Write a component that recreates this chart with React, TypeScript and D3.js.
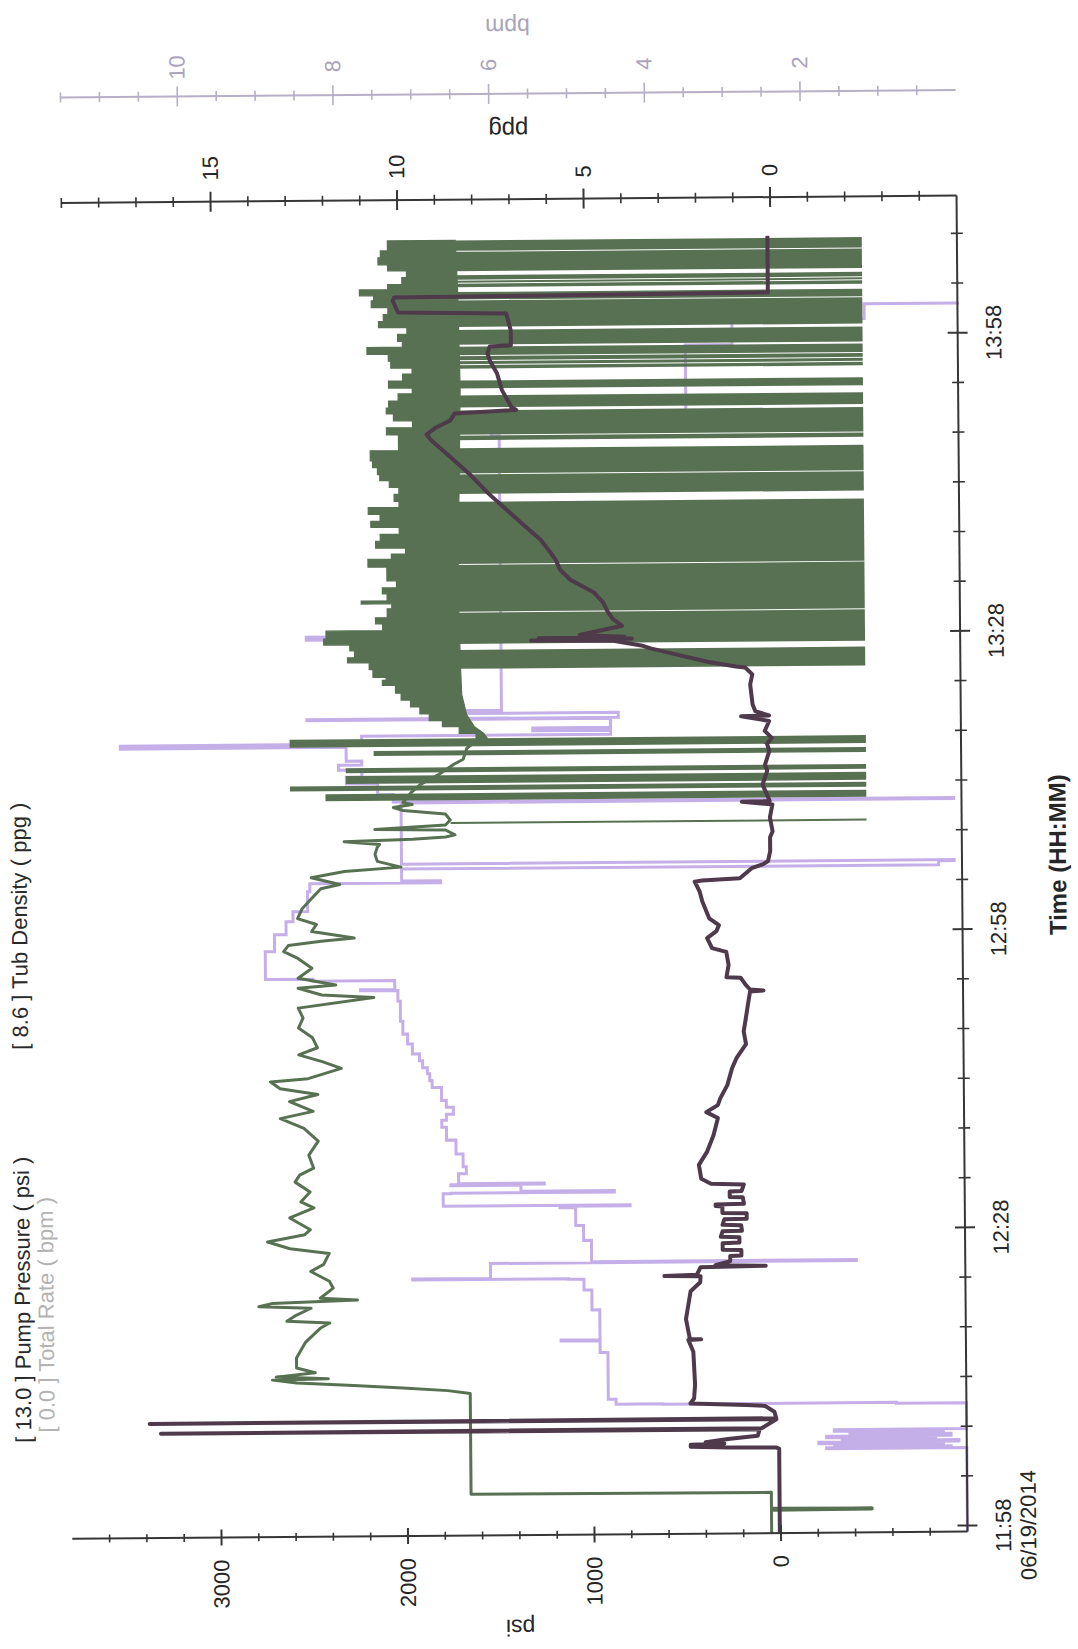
import React from "react";
import * as d3 from "d3";

type Pt = [number, number];

// ---------- text / ticks ----------
const chartDate = "06/19/2014";
const timeTickMinutes = [0, 30, 60, 90, 120]; // minutes after 11:58
const timeTickLabels = ["11:58", "12:28", "12:58", "13:28", "13:58"];
const psiTickLabels = [0, 1000, 2000, 3000];
const ppgTickLabels = [0, 5, 10, 15];
const bpmTickLabels = [2, 4, 6, 8, 10];
const legendTexts = [
  "[ 13.0 ] Pump Pressure ( psi )",
  "[ 0.0 ] Total Rate ( bpm )",
  "[ 8.6 ] Tub Density ( ppg )",
];

// ---------- data: [minutes after 11:58, value] ----------
const pumpPressure: Pt[] = [
  [-0.6, 50], [1.7, 50], [1.75, -490], [1.8, 50], [1.85, -490], [1.9, 50], [3.5, 50], [3.55, 1660],
  [13.7, 1660], [14.0, 1780], [14.3, 2020], [14.6, 2285], [14.9, 2590], [15.2, 2720],
  [15.3, 2420], [15.5, 2700], [15.9, 2490], [16.4, 2590], [17.4, 2590], [19.0, 2540], [20.4, 2460],
  [20.9, 2410], [21.1, 2640], [21.7, 2590], [22.4, 2510], [22.6, 2790], [22.9, 2720], [23.2, 2260],
  [23.4, 2460], [24.4, 2390], [25.1, 2410], [26.1, 2510], [26.8, 2440], [27.9, 2410], [28.4, 2620],
  [29.1, 2740], [29.8, 2540], [30.3, 2510], [31.5, 2620], [32.5, 2490], [33.1, 2560], [34.1, 2510],
  [35.1, 2590], [35.8, 2565], [36.5, 2490], [37.8, 2515], [39.2, 2464], [40.5, 2540], [41.5, 2666],
  [42.2, 2490], [43.2, 2616], [43.9, 2464], [44.5, 2666], [45.2, 2717], [45.5, 2515], [46.5, 2337],
  [47.2, 2439], [47.9, 2565], [48.6, 2464], [49.6, 2490], [50.6, 2565], [51.6, 2540], [52.6, 2565],
  [53.6, 2160], [53.9, 2439], [54.6, 2565], [54.9, 2363], [55.6, 2565], [56.6, 2490], [57.6, 2565],
  [58.3, 2641], [58.9, 2616], [59.3, 2439], [59.6, 2262], [60.3, 2490], [61.0, 2464], [61.6, 2565],
  [62.6, 2540], [63.6, 2490], [64.6, 2439], [65.0, 2337], [65.7, 2490], [66.3, 2312], [66.7, 2008],
  [67.3, 2135], [68.0, 2147], [68.7, 2135], [69.0, 2122], [69.3, 2312], [69.5, 1945], [69.7, 1768],
  [69.9, 1717], [70.4, 1768], [70.5, 2147], [70.9, 1768], [71.4, 1742], [72.0, 1768], [72.4, 1995],
  [72.7, 2046], [73.0, 1945], [73.2, 1995], [74.2, 1950], [75.0, 1900], [76.0, 1800], [77.0, 1720],
  [77.5, 1670], [78.6, 1650], [79.6, 1580],
];

// dense pumping period: upper (high psi) envelope and lower core edge
const pressureUpper: Pt[] = [
  [79.6, 1600], [80.1, 1690], [80.8, 1780], [81.4, 1850], [82.1, 1900], [82.8, 1950], [83.5, 2000],
  [84.2, 2030], [85.0, 2100], [85.5, 2080], [85.8, 2150], [86.6, 2170], [87.3, 2286], [87.8, 2248],
  [88.5, 2273], [89.1, 2413], [89.7, 2400], [90.5, 2096], [91.2, 2134], [91.8, 2071], [92.7, 2046],
  [93.2, 2210], [93.5, 2071], [94.2, 2096], [94.8, 2020], [95.5, 2071], [96.2, 2071], [96.9, 2172],
  [97.7, 2046], [98.2, 1970], [98.8, 2130], [99.5, 2105], [100.2, 2003], [100.9, 2155], [101.5, 2105],
  [102.2, 2168], [102.9, 2003], [103.5, 2029], [104.2, 2003], [104.9, 2054], [105.6, 2105],
  [106.2, 2117], [106.9, 2143], [107.6, 2155], [108.6, 2003], [109.6, 2003], [110.2, 2067],
  [110.9, 1927], [111.6, 2029], [112.3, 2067], [112.9, 2054], [113.6, 2003], [114.3, 1927],
  [114.9, 2054], [115.6, 1978], [116.3, 1927], [116.9, 2041], [117.6, 2054], [118.3, 2168],
  [119.0, 1978], [119.6, 2003], [120.3, 1953], [121.0, 2105], [121.6, 2079], [122.3, 2054],
  [123.0, 2143], [123.7, 2130], [124.2, 2206], [124.8, 2054], [125.3, 1978], [126.0, 1953],
  [126.7, 2054], [127.3, 2105], [128.0, 2092], [128.7, 2054], [129.7, 2054],
];
const pressureLower: Pt[] = [
  [79.6, 1540], [80.1, 1560], [80.8, 1610], [82.0, 1650], [84.0, 1675], [86.6, 1680], [95.0, 1690],
  [105.0, 1680], [115.0, 1670], [125.0, 1680], [129.7, 1690],
];
const pressureFloor = -490;
// [start, end, top psi] periods where the pressure trace sweeps down to the floor
const pressureFloorSpans: [number, number, number][] = [
  [71.0, 71.2, 1740], [73.4, 74.1, 2410], [74.4, 74.9, 2600], [75.1, 75.9, 2300], [76.2, 76.7, 2300],
  [77.9, 78.4, 2150], [78.8, 79.6, 2600],
  [86.6, 88.5, 1700], [89.1, 92.25, 1700], [92.35, 97.05, 1700], [97.15, 103.4, 1700],
  [104.2, 106.15, 1700], [106.25, 108.8, 1700], [109.6, 110.05, 1700], [110.15, 112.6, 1700],
  [112.9, 114.1, 1700], [114.8, 115.6, 1700], [116.8, 117.15, 1700], [117.25, 117.55, 1700],
  [117.65, 118.05, 1700], [118.15, 119.0, 1700], [119.2, 120.7, 1700], [121.0, 123.65, 1700],
  [123.75, 124.5, 1700], [125.0, 125.35, 1700], [125.45, 125.65, 1700], [125.75, 126.2, 1700],
  [126.6, 128.55, 1700], [128.65, 129.7, 1700],
];

const totalRate: Pt[] = [
  [-0.6, 0], [7.8, 0], [7.85, 1.8], [7.95, 0.2], [8.05, 1.7], [8.2, 0.3], [8.35, 1.9], [8.5, 0.1],
  [8.65, 1.6], [8.8, 0.4], [8.95, 1.8], [9.1, 0.2], [9.3, 1.5], [9.45, 0.3], [9.6, 1.7], [9.75, 0],
  [12.3, 0], [12.35, 0.9], [12.45, 3.9], [12.5, 4.5], [13.0, 4.6], [17.7, 4.7], [18.9, 5.2],
  [19.0, 4.7], [22.0, 4.8], [24.0, 4.9], [25.1, 5.1], [25.15, 7.1], [25.25, 6.1], [26.7, 6.1],
  [26.75, 1.4], [26.85, 4.8], [29.0, 4.9], [30.5, 5.0], [32.3, 5.2], [32.45, 4.3], [32.55, 6.7],
  [33.8, 6.6], [33.85, 4.5], [34.0, 5.7], [34.6, 6.6], [34.7, 5.4], [34.8, 6.5], [35.8, 6.4],
  [36.5, 6.44], [37.8, 6.53], [39.2, 6.65], [40.5, 6.71], [41.2, 6.65], [41.8, 6.56], [42.5, 6.65],
  [43.2, 6.71], [44.5, 6.83], [45.2, 6.86], [45.9, 6.89], [46.5, 6.95], [47.2, 6.99], [47.9, 7.08],
  [48.9, 7.14], [49.9, 7.2], [51.2, 7.23], [53.2, 7.26], [54.3, 7.74], [54.4, 7.3], [55.3, 8.35],
  [55.5, 8.96], [57.9, 8.96], [58.3, 8.84], [60.0, 8.69], [61.3, 8.6], [62.3, 8.41], [64.3, 8.38],
  [65.1, 6.7], [65.3, 7.2], [66.4, 7.2], [66.5, 0.3], [66.9, 0.1], [67.0, 7.2], [73.1, 7.1],
  [73.15, 0.1], [73.25, 7.3], [74.0, 7.5], [75.1, 7.9], [75.8, 7.7], [76.5, 8.0], [77.0, 7.7],
  [77.4, 7.9], [78.8, 10.8], [79.1, 7.7], [79.9, 4.5], [80.3, 5.5], [80.6, 4.5], [81.5, 8.4],
  [81.6, 4.4], [82.1, 6.4], [82.4, 5.9], [89.5, 5.9], [89.6, 8.4], [89.9, 7.5], [90.1, 5.9],
  [110.0, 6.0], [112.0, 3.5], [118.5, 3.5], [119.0, 2.9], [121.2, 2.9], [121.5, 1.2], [123.0, 0],
  [123.1, 0],
];

const tubDensity: Pt[] = [
  [-0.6, 0.03], [7.9, 0.03], [8.0, 0.1], [8.05, 1.4], [8.15, 2.4], [8.35, 2.4], [8.45, 1.5], [8.6, 2.0],
  [8.9, 1.4], [9.2, 0.6], [9.85, 0.55], [9.9, 16.6], [9.95, 0.5], [10.85, 0.1], [10.9, 16.9],
  [10.95, 0.1], [11.6, 0.15], [12.2, 0.4], [12.3, 0.9], [12.5, 2.4], [13.0, 2.3], [14.4, 2.27],
  [17.7, 2.31], [18.9, 2.44], [18.95, 2.1], [19.0, 2.4], [21.0, 2.5], [23.8, 2.37], [24.7, 2.11],
  [25.3, 2.1], [25.35, 3.07], [25.45, 2.2], [26.2, 2.1], [26.3, 0.35], [26.4, 1.7], [26.8, 1.3],
  [27.3, 1.3], [27.35, 1.0], [27.9, 1.0], [27.95, 1.5], [28.6, 1.5], [28.65, 1.05], [29.2, 1.05],
  [29.25, 1.55], [29.8, 1.5], [29.85, 0.98], [30.4, 1.0], [30.45, 1.5], [31.0, 1.45], [31.05, 0.85],
  [31.6, 0.85], [31.65, 1.5], [32.3, 1.5], [32.35, 1.68], [32.5, 1.68], [32.55, 0.92], [33.2, 0.95],
  [33.25, 1.3], [33.8, 1.3], [33.85, 0.98], [34.5, 0.92], [34.6, 1.8], [35.1, 2.06], [36.5, 2.12],
  [37.8, 1.9], [39.5, 1.72], [41.2, 1.6], [41.8, 1.91], [42.5, 1.6], [43.2, 1.53], [44.5, 1.34],
  [46.2, 1.21], [47.2, 1.09], [47.9, 0.96], [48.6, 0.83], [49.9, 0.89], [51.2, 0.83], [52.6, 0.77],
  [53.9, 0.71], [54.0, 0.35], [54.1, 0.71], [54.6, 0.83], [55.3, 0.96], [55.35, 1.34], [56.6, 1.28],
  [57.9, 1.34], [58.3, 1.72], [59.3, 1.85], [60.0, 1.6], [60.6, 1.53], [61.3, 1.79], [63.0, 1.97],
  [64.0, 2.04], [65.0, 2.17], [65.1, 1.97], [65.3, 0.96], [65.7, 0.83], [66.3, 0.64], [66.7, 0.33],
  [67.0, 0.2], [68.0, 0.14], [69.4, 0.14], [70.0, 0.07], [71.4, 0.14], [72.7, 0.07], [73.0, 0.89],
  [73.05, 0.14], [74.1, 0.26], [74.7, 0.33], [76.1, 0.2], [76.7, 0.26], [78.1, 0.14], [78.8, 0.2],
  [79.4, 0.07], [80.1, 0.26], [81.1, 0.14], [81.6, 0.89], [81.65, 0.14], [82.1, 0.51], [82.8, 0.58],
  [84.8, 0.64], [85.8, 0.58], [86.5, 0.77], [86.6, 1.02], [87.1, 1.78], [87.8, 2.54], [88.5, 3.3],
  [88.8, 3.55], [89.3, 4.3], [89.4, 6.5], [89.5, 3.8], [89.6, 6.3], [89.7, 4.0], [89.9, 5.2],
  [90.8, 4.06], [91.5, 4.31], [92.2, 4.44], [93.2, 4.57], [94.2, 4.82], [95.5, 5.45], [96.5, 5.71],
  [97.5, 5.83], [98.2, 5.96], [99.5, 6.22], [101.2, 6.73], [102.9, 7.23], [104.2, 7.61], [106.2, 8.12],
  [107.9, 8.62], [109.6, 9.13], [110.2, 9.26], [110.9, 9.0], [111.6, 8.62], [112.3, 8.5], [112.6, 6.85],
  [112.9, 6.98], [114.6, 7.23], [116.3, 7.36], [117.6, 7.55], [118.3, 7.61], [119.0, 7.55],
  [119.1, 6.98], [120.6, 6.98], [122.3, 7.1], [122.5, 10.0], [123.7, 10.14], [124.0, 10.1],
  [124.2, 0.08], [129.9, 0.08],
];

// ---------- styling ----------
const FONT = "'Liberation Sans', Arial, Helvetica, sans-serif";
const GREEN = "#587152";
const DARK_PURPLE = "#4e3a4b";
const LIGHT_PURPLE = "#c5afe8";
const AXIS = "#363636";
const BPM_AXIS = "#b6afc6";

export default function App() {
  // Chart is laid out in its natural (landscape) frame, then rotated onto the page.
  const plotLeft = 117.5;
  const plotRight = 1453.5;
  const plotTop = 72.3;
  const plotBottom = 967.5;
  const bpmAxisX = 1559;

  const x = d3.scaleLinear().domain([-0.6, 133.8]).range([plotLeft, plotRight]);
  const yPsi = d3.scaleLinear().domain([-1000, 3800]).range([plotBottom, plotTop]);
  const yPpg = d3.scaleLinear().domain([-5, 19]).range([plotBottom, plotTop]);
  const yBpm = d3.scaleLinear().domain([0, 11.5]).range([plotBottom, plotTop]);

  const pressureLine = d3.line<Pt>().x((d) => x(d[0])).y((d) => yPsi(d[1]));
  const densityLine = d3.line<Pt>().x((d) => x(d[0])).y((d) => yPpg(d[1]));
  const rateLine = d3
    .line<Pt>()
    .x((d) => x(d[0]))
    .y((d) => yBpm(d[1]))
    .curve(d3.curveStepAfter);

  // band: upper envelope drawn as steps, lower core edge linear
  const upperPts: Pt[] = [];
  pressureUpper.forEach((d, i) => {
    upperPts.push([x(d[0]), yPsi(d[1])]);
    const next = pressureUpper[i + 1];
    if (next) upperPts.push([x(next[0]), yPsi(d[1])]);
  });
  const bandPts: Pt[] = [
    ...upperPts,
    ...pressureLower
      .slice()
      .reverse()
      .map((d) => [x(d[0]), yPsi(d[1])] as Pt),
  ];
  const bandPath = (d3.line<Pt>()(bandPts) || "") + "Z";

  const timeTicks = d3.range(0, 131, 5);
  const psiTicks = d3.range(-800, 3601, 200);
  const ppgTicks = d3.range(-4, 20, 1);
  const bpmTicks = d3.range(0.5, 11.51, 0.5);

  const tickFont = 22;
  const midY = (plotTop + plotBottom) / 2;

  return (
    <svg
      width={1078}
      height={1649}
      style={{ position: "absolute", left: 0, top: 0, background: "#fff" }}
      fontFamily={FONT}
    >
      <rect x={0} y={0} width={1078} height={1649} fill="#fff" />
      <g transform="rotate(-0.47, 967, 1533)">
        <g transform="translate(0,1649) rotate(-90)">
          {/* ---- legend ---- */}
          <text x={214} y={32} fontSize={22} fill="#2a2a2a">
            {legendTexts[0]}
          </text>
          <text x={224} y={55.5} fontSize={22} fill="#b3b3b3">
            {legendTexts[1]}
          </text>
          <text x={607} y={32} fontSize={22} fill="#2a2a2a">
            {legendTexts[2]}
          </text>

          {/* ---- series ---- */}
          <path d={rateLine(totalRate) || ""} fill="none" stroke={LIGHT_PURPLE} strokeWidth={3} />
          <path d={bandPath} fill={GREEN} stroke={GREEN} strokeWidth={1.2} />
          {pressureFloorSpans.map((s, i) => (
            <rect
              key={"fs" + i}
              x={x(s[0])}
              width={Math.max(0.8, x(s[1]) - x(s[0]))}
              y={yPsi(s[2])}
              height={yPsi(pressureFloor) - yPsi(s[2])}
              fill={GREEN}
            />
          ))}
          <path
            d={pressureLine(pumpPressure) || ""}
            fill="none"
            stroke={GREEN}
            strokeWidth={3}
            strokeLinejoin="round"
          />
          <path
            d={densityLine(tubDensity) || ""}
            fill="none"
            stroke={DARK_PURPLE}
            strokeWidth={4}
            strokeLinejoin="round"
          />

          {/* ---- time axis (bottom) ---- */}
          <line x1={plotLeft} x2={plotRight} y1={plotBottom} y2={plotBottom} stroke={AXIS} strokeWidth={2} />
          {timeTicks.map((t) => {
            const major = t % 30 === 0;
            const len = major ? 10 : 6;
            return (
              <line
                key={"tt" + t}
                x1={x(t)}
                x2={x(t)}
                y1={plotBottom - len}
                y2={plotBottom + len}
                stroke={AXIS}
                strokeWidth={major ? 2 : 1.6}
              />
            );
          })}
          {timeTickMinutes.map((t, i) => (
            <text
              key={"tl" + t}
              x={x(t)}
              y={plotBottom + 43.5}
              fontSize={tickFont}
              textAnchor="middle"
              fill="#262626"
            >
              {timeTickLabels[i]}
            </text>
          ))}
          <text
            x={x(timeTickMinutes[0])}
            y={plotBottom + 68.5}
            fontSize={tickFont}
            textAnchor="middle"
            fill="#262626"
          >
            {chartDate}
          </text>
          <text
            x={(plotLeft + plotRight) / 2 + 8}
            y={plotBottom + 104}
            fontSize={24}
            fontWeight="bold"
            textAnchor="middle"
            fill="#262626"
          >
            Time (HH:MM)
          </text>

          {/* ---- psi axis (left) ---- */}
          <line x1={plotLeft} x2={plotLeft} y1={plotTop} y2={plotBottom} stroke={AXIS} strokeWidth={2} />
          {psiTicks.map((v) => {
            const major = v % 1000 === 0;
            const len = major ? 8 : 4;
            return (
              <line
                key={"pt" + v}
                x1={plotLeft - len}
                x2={plotLeft + len}
                y1={yPsi(v)}
                y2={yPsi(v)}
                stroke={AXIS}
                strokeWidth={major ? 2 : 1.6}
              />
            );
          })}
          {psiTickLabels.map((v) => (
            <text
              key={"pl" + v}
              x={plotLeft - 22}
              y={yPsi(v)}
              fontSize={tickFont}
              textAnchor="end"
              dominantBaseline="central"
              fill="#262626"
            >
              {v}
            </text>
          ))}
          <text
            transform={`translate(33, ${midY}) rotate(-90)`}
            fontSize={23}
            textAnchor="middle"
            fill="#262626"
          >
            psi
          </text>

          {/* ---- ppg axis (right) ---- */}
          <line x1={plotRight} x2={plotRight} y1={plotTop} y2={plotBottom} stroke={AXIS} strokeWidth={2} />
          {ppgTicks.map((v) => {
            const major = v % 5 === 0;
            const len = major ? 10 : 5;
            return (
              <line
                key={"gt" + v}
                x1={plotRight - len}
                x2={plotRight + len}
                y1={yPpg(v)}
                y2={yPpg(v)}
                stroke={AXIS}
                strokeWidth={major ? 2 : 1.6}
              />
            );
          })}
          {ppgTickLabels.map((v) => (
            <text
              key={"gl" + v}
              x={plotRight + 21}
              y={yPpg(v)}
              fontSize={tickFont}
              textAnchor="start"
              dominantBaseline="central"
              fill="#262626"
            >
              {v}
            </text>
          ))}
          <text
            transform={`translate(1531, ${midY}) rotate(-90)`}
            fontSize={24}
            textAnchor="middle"
            fill="#262626"
          >
            ppg
          </text>

          {/* ---- bpm axis (far right) ---- */}
          <line x1={bpmAxisX} x2={bpmAxisX} y1={plotTop} y2={plotBottom} stroke={BPM_AXIS} strokeWidth={2} />
          {bpmTicks.map((v) => {
            const major = Math.abs(v % 2) < 1e-6;
            const len = major ? 10 : 5;
            return (
              <line
                key={"bt" + v}
                x1={bpmAxisX - len}
                x2={bpmAxisX + len}
                y1={yBpm(v)}
                y2={yBpm(v)}
                stroke={BPM_AXIS}
                strokeWidth={1.6}
              />
            );
          })}
          {bpmTickLabels.map((v) => (
            <text
              key={"bl" + v}
              x={bpmAxisX + 29}
              y={yBpm(v)}
              fontSize={tickFont}
              textAnchor="middle"
              dominantBaseline="central"
              fill="#aaa3ba"
            >
              {v}
            </text>
          ))}
          <text
            transform={`translate(1634, ${midY}) rotate(-90)`}
            fontSize={23}
            textAnchor="middle"
            fill="#aaa3ba"
          >
            bpm
          </text>
        </g>
      </g>
    </svg>
  );
}
